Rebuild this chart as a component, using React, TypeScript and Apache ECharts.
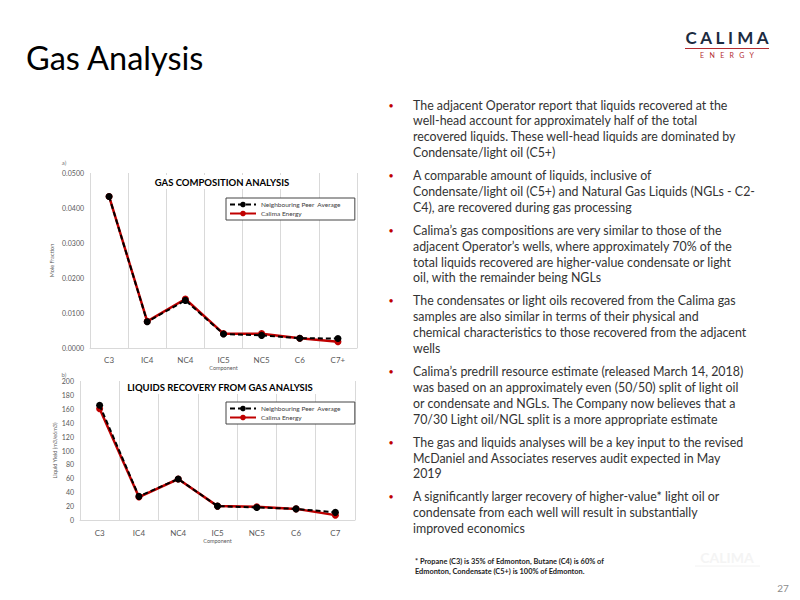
import React, { useEffect, useRef } from "react";
import * as echarts from "echarts";

const categoriesTop = ["C3", "IC4", "NC4", "IC5", "NC5", "C6", "C7+"];
const categoriesBottom = ["C3", "IC4", "NC4", "IC5", "NC5", "C6", "C7"];
const gasNeighbour = [0.0433, 0.0075, 0.0136, 0.004, 0.0036, 0.0028, 0.0027];
const gasCalima = [0.0433, 0.0076, 0.014, 0.0041, 0.0041, 0.0028, 0.0018];
const liqNeighbour = [165, 34, 59, 20, 18, 16, 11];
const liqCalima = [160, 33, 59, 20, 19, 16, 7];
const seriesNames = ["Neighbouring Peer  Average", "Calima Energy"];

const bullets = [
  [
    "The adjacent Operator report that liquids recovered at the",
    "well-head account for approximately half of the total",
    "recovered liquids. These well-head liquids are dominated by",
    "Condensate/light oil (C5+)",
  ],
  [
    "A comparable amount of liquids, inclusive of",
    "Condensate/light oil (C5+) and Natural Gas Liquids (NGLs - C2-",
    "C4), are recovered during gas processing",
  ],
  [
    "Calima’s gas compositions are very similar to those of the",
    "adjacent Operator’s wells, where approximately 70% of the",
    "total liquids recovered are higher-value condensate or light",
    "oil, with the remainder being NGLs",
  ],
  [
    "The condensates or light oils recovered from the Calima gas",
    "samples are also similar in terms of their physical and",
    "chemical characteristics to those recovered from the adjacent",
    "wells",
  ],
  [
    "Calima’s predrill resource estimate (released March 14, 2018)",
    "was based on an approximately even (50/50) split of light oil",
    "or condensate and NGLs. The Company now believes that a",
    "70/30 Light oil/NGL split is a more appropriate estimate",
  ],
  [
    "The gas and liquids analyses will be a key input to the revised",
    "McDaniel and Associates reserves audit expected in May",
    "2019",
  ],
  [
    "A significantly larger recovery of higher-value* light oil or",
    "condensate from each well will result in substantially",
    "improved economics",
  ],
];
const footnote = [
  "* Propane (C3) is 35% of Edmonton, Butane (C4) is 60% of",
  "Edmonton, Condensate (C5+) is 100% of Edmonton.",
];

const FONT = "Lato";
const RED = "#c00000";

export default function App() {
  const ref = useRef<HTMLDivElement>(null);
  useEffect(() => {
    if (!ref.current) return;
    const chart = echarts.init(ref.current, null, { renderer: "svg" });

    const graphics: any[] = [];
    // slide title
    graphics.push({
      type: "text",
      x: 26,
      y: 57,
      style: { text: "Gas Analysis", font: `32.5px ${FONT}`, fill: "#000", verticalAlign: "middle" },
    });
    // logo
    graphics.push({
      type: "text",
      x: 727,
      y: 37,
      style: {
        text: "C A L I M A",
        font: `bold 17px ${FONT}`,
        fill: "#1c2b3f",
        align: "center",
        verticalAlign: "middle",
      },
    });
    graphics.push({
      type: "line",
      shape: { x1: 685, y1: 48.5, x2: 769, y2: 48.5 },
      style: { stroke: "#b22a2e", lineWidth: 1.2 },
    });
    graphics.push({
      type: "text",
      x: 727,
      y: 55,
      style: {
        text: "E   N   E   R   G   Y",
        font: `7px ${FONT}`,
        fill: "#b22a2e",
        align: "center",
        verticalAlign: "middle",
      },
    });
    // bullets
    let lineIdx = 0;
    bullets.forEach((lines, bi) => {
      const y0 = 105 + lineIdx * 15.85 + bi * 7.2;
      graphics.push({
        type: "text",
        x: 391,
        y: y0,
        style: { text: "•", font: `9px ${FONT}`, fill: RED, align: "center", verticalAlign: "middle" },
      });
      lines.forEach((t, li) => {
        graphics.push({
          type: "text",
          x: 413,
          y: y0 + li * 15.85,
          style: { text: t, font: `12.4px ${FONT}`, fill: "#333", verticalAlign: "middle" },
        });
      });
      lineIdx += lines.length;
    });
    footnote.forEach((t, i) => {
      graphics.push({
        type: "text",
        x: 415,
        y: 561 + i * 10,
        style: { text: t, font: `bold 7.4px ${FONT}`, fill: "#222", verticalAlign: "middle" },
      });
    });
    // faint watermark logo
    graphics.push({
      type: "text",
      x: 727,
      y: 557,
      style: { text: "CALIMA", font: `bold 14px ${FONT}`, fill: "#f4f4f4", align: "center", verticalAlign: "middle" },
    });
    graphics.push({
      type: "line",
      shape: { x1: 695, y1: 566, x2: 760, y2: 566 },
      style: { stroke: "#f2f2f2", lineWidth: 1 },
    });
    graphics.push({
      type: "text",
      x: 783,
      y: 588,
      style: { text: "27", font: `10px ${FONT}`, fill: "#8c8c8c", align: "center", verticalAlign: "middle" },
    });
    // panel labels
    graphics.push({
      type: "text",
      x: 64,
      y: 162,
      style: { text: "a)", font: `6px ${FONT}`, fill: "#777", align: "center", verticalAlign: "middle" },
    });
    graphics.push({
      type: "text",
      x: 64,
      y: 374,
      style: { text: "b)", font: `6px ${FONT}`, fill: "#777", align: "center", verticalAlign: "middle" },
    });

    const axisLabelX = { fontSize: 8, color: "#595959", fontFamily: FONT, margin: 8 };
    const axisLabelY = { fontSize: 7, color: "#595959", fontFamily: FONT, margin: 6 };

    const makeSeries = (gi: number, neigh: number[], cal: number[]) => [
      {
        name: seriesNames[0],
        type: "line",
        xAxisIndex: gi,
        yAxisIndex: gi,
        data: neigh,
        z: 4,
        symbol: "circle",
        symbolSize: 7,
        itemStyle: { color: "#000" },
        lineStyle: { color: "#000", width: 2, type: [5, 3] },
      },
      {
        name: seriesNames[1],
        type: "line",
        xAxisIndex: gi,
        yAxisIndex: gi,
        data: cal,
        z: 3,
        symbol: "circle",
        symbolSize: 7,
        itemStyle: { color: RED },
        lineStyle: { color: RED, width: 2.5 },
      },
    ];

    const legendBase = {
      orient: "vertical",
      left: 226,
      itemWidth: 26,
      itemHeight: 7,
      itemGap: 2,
      padding: [3, 14, 3, 3],
      backgroundColor: "#fff",
      borderColor: "#444",
      borderWidth: 1,
      textStyle: { fontSize: 6.5, color: "#404040", fontFamily: FONT, width: 84 },
      data: seriesNames,
      selectedMode: false,
    };

    chart.setOption({
      animation: false,
      backgroundColor: "#fff",
      textStyle: { fontFamily: FONT },
      title: [
        {
          text: "GAS COMPOSITION ANALYSIS",
          left: 218,
          top: 175,
          textAlign: "center",
          backgroundColor: "#fff",
          padding: [2, 4],
          textStyle: { fontSize: 9.5, fontWeight: "bold", color: "#000", fontFamily: FONT },
        },
        {
          text: "LIQUIDS RECOVERY FROM GAS ANALYSIS",
          left: 216,
          top: 380,
          textAlign: "center",
          backgroundColor: "#fff",
          padding: [2, 4],
          textStyle: { fontSize: 9.5, fontWeight: "bold", color: "#000", fontFamily: FONT },
        },
      ],
      legend: [
        { ...legendBase, top: 198 },
        { ...legendBase, top: 402 },
      ],
      grid: [
        { left: 90, width: 267, top: 173, height: 175 },
        { left: 80, width: 275, top: 381, height: 139 },
      ],
      xAxis: [
        {
          type: "category",
          gridIndex: 0,
          data: categoriesTop,
          boundaryGap: true,
          name: "Component",
          nameLocation: "middle",
          nameGap: 16,
          nameTextStyle: { fontSize: 5.5, color: "#595959", fontFamily: FONT },
          axisLine: { show: true, lineStyle: { color: "#d9d9d9" } },
          axisTick: { show: false },
          splitLine: { show: true, lineStyle: { color: "#d9d9d9", width: 1 } },
          axisLabel: axisLabelX,
        },
        {
          type: "category",
          gridIndex: 1,
          data: categoriesBottom,
          boundaryGap: true,
          name: "Component",
          nameLocation: "middle",
          nameGap: 18,
          nameTextStyle: { fontSize: 5.5, color: "#595959", fontFamily: FONT },
          axisLine: { show: true, lineStyle: { color: "#d9d9d9" } },
          axisTick: { show: false },
          splitLine: { show: true, lineStyle: { color: "#d9d9d9", width: 1 } },
          axisLabel: { ...axisLabelX, margin: 9 },
        },
      ],
      yAxis: [
        {
          type: "value",
          gridIndex: 0,
          min: 0,
          max: 0.05,
          interval: 0.01,
          name: "Mole Fraction",
          nameLocation: "middle",
          nameGap: 35,
          nameTextStyle: { fontSize: 5.5, color: "#595959", fontFamily: FONT },
          axisLine: { show: false },
          axisTick: { show: false },
          splitLine: { show: false },
          axisLabel: { ...axisLabelY, formatter: (v: number) => v.toFixed(4) },
        },
        {
          type: "value",
          gridIndex: 1,
          min: 0,
          max: 200,
          interval: 20,
          name: "Liquid Yield (m3/e6m3)",
          nameLocation: "middle",
          nameGap: 22,
          nameTextStyle: { fontSize: 5.5, color: "#595959", fontFamily: FONT },
          axisLine: { show: false },
          axisTick: { show: false },
          splitLine: { show: false },
          axisLabel: axisLabelY,
        },
      ],
      series: [...makeSeries(0, gasNeighbour, gasCalima), ...makeSeries(1, liqNeighbour, liqCalima)],
      graphic: graphics,
    });
    return () => chart.dispose();
  }, []);
  return (
    <div
      ref={ref}
      style={{ position: "fixed", left: 0, top: 0, width: 800, height: 600 }}
    />
  );
}
